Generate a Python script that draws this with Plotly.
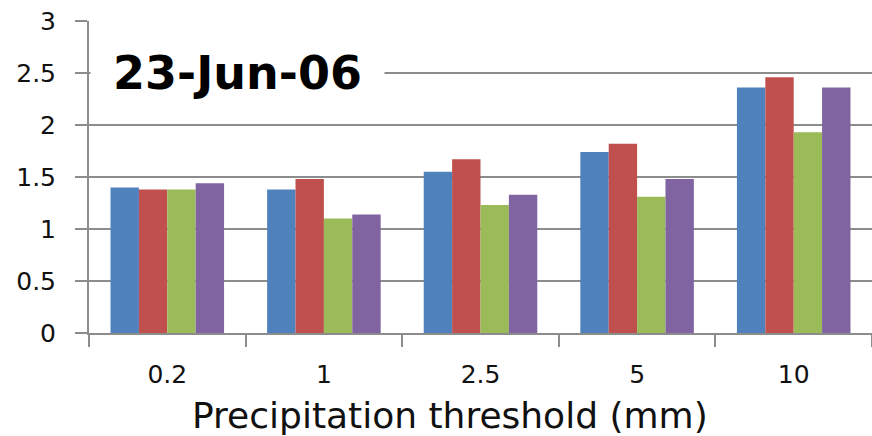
import plotly.graph_objects as go

categories = ["0.2", "1", "2.5", "5", "10"]
series_a = [1.40, 1.38, 1.55, 1.74, 2.36]
series_b = [1.38, 1.48, 1.67, 1.82, 2.46]
series_c = [1.38, 1.10, 1.23, 1.31, 1.93]
series_d = [1.44, 1.14, 1.33, 1.48, 2.36]
y_ticks = [0, 0.5, 1, 1.5, 2, 2.5, 3]
y_tick_labels = ["0", "0.5", "1", "1.5", "2", "2.5", "3"]

colors = ["#4F81BD", "#C0504D", "#9BBB59", "#8064A2"]
names = ["Series 1", "Series 2", "Series 3", "Series 4"]

fig = go.Figure()
for name, vals, col in zip(names, [series_a, series_b, series_c, series_d], colors):
    fig.add_trace(go.Bar(x=categories, y=vals, name=name, marker_color=col,
                         marker_line_width=0))

font_family = "DejaVu Sans"
fig.update_layout(
    width=872, height=436,
    margin=dict(l=89, r=0, t=21, b=103),
    paper_bgcolor="white", plot_bgcolor="white",
    barmode="group", bargap=0.275, bargroupgap=0,
    showlegend=False,
    font=dict(family=font_family, color="#111111", size=25),
    xaxis=dict(
        type="category", automargin=False,
        showgrid=False,
        showline=True, linecolor="#8c8c8c", linewidth=2,
        ticks="outside", tickson="boundaries", ticklen=12, tickwidth=2, tickcolor="#8c8c8c",
        tickfont=dict(size=25, family=font_family),
        ticklabelstandoff=18, ticklabeloverflow="allow",
    ),
    yaxis=dict(
        range=[0, 3], automargin=False,
        tickvals=y_ticks, ticktext=y_tick_labels,
        showgrid=True, gridcolor="#8c8c8c", gridwidth=2,
        showline=True, linecolor="#8c8c8c", linewidth=2,
        ticks="outside", ticklen=12, tickwidth=2, tickcolor="#8c8c8c",
        tickfont=dict(size=25, family=font_family),
        ticklabelstandoff=14, ticklabeloverflow="allow",
        zeroline=False,
    ),
    annotations=[
        dict(
            text="<b>23-Jun-06</b>", xref="paper", yref="y",
            x=(237 - 89) / 783, y=2.5, xanchor="center", yanchor="middle",
            showarrow=False, bgcolor="white", borderpad=2, width=289,
            font=dict(size=46, family=font_family, color="black"),
        ),
        dict(
            text="Precipitation threshold (mm)", xref="paper", yref="paper",
            x=(450 - 89) / 783, y=-(415 - 333) / 312, xanchor="center", yanchor="middle",
            showarrow=False, font=dict(size=36, family=font_family, color="#111111"),
        ),
    ],
)

fig.write_html(
    "out.html", config={"displayModeBar": False},
    post_script=(
        "document.body.style.margin='0';"
        "document.body.style.overflow='hidden';"
        "document.documentElement.style.overflow='hidden';"
    ),
)
